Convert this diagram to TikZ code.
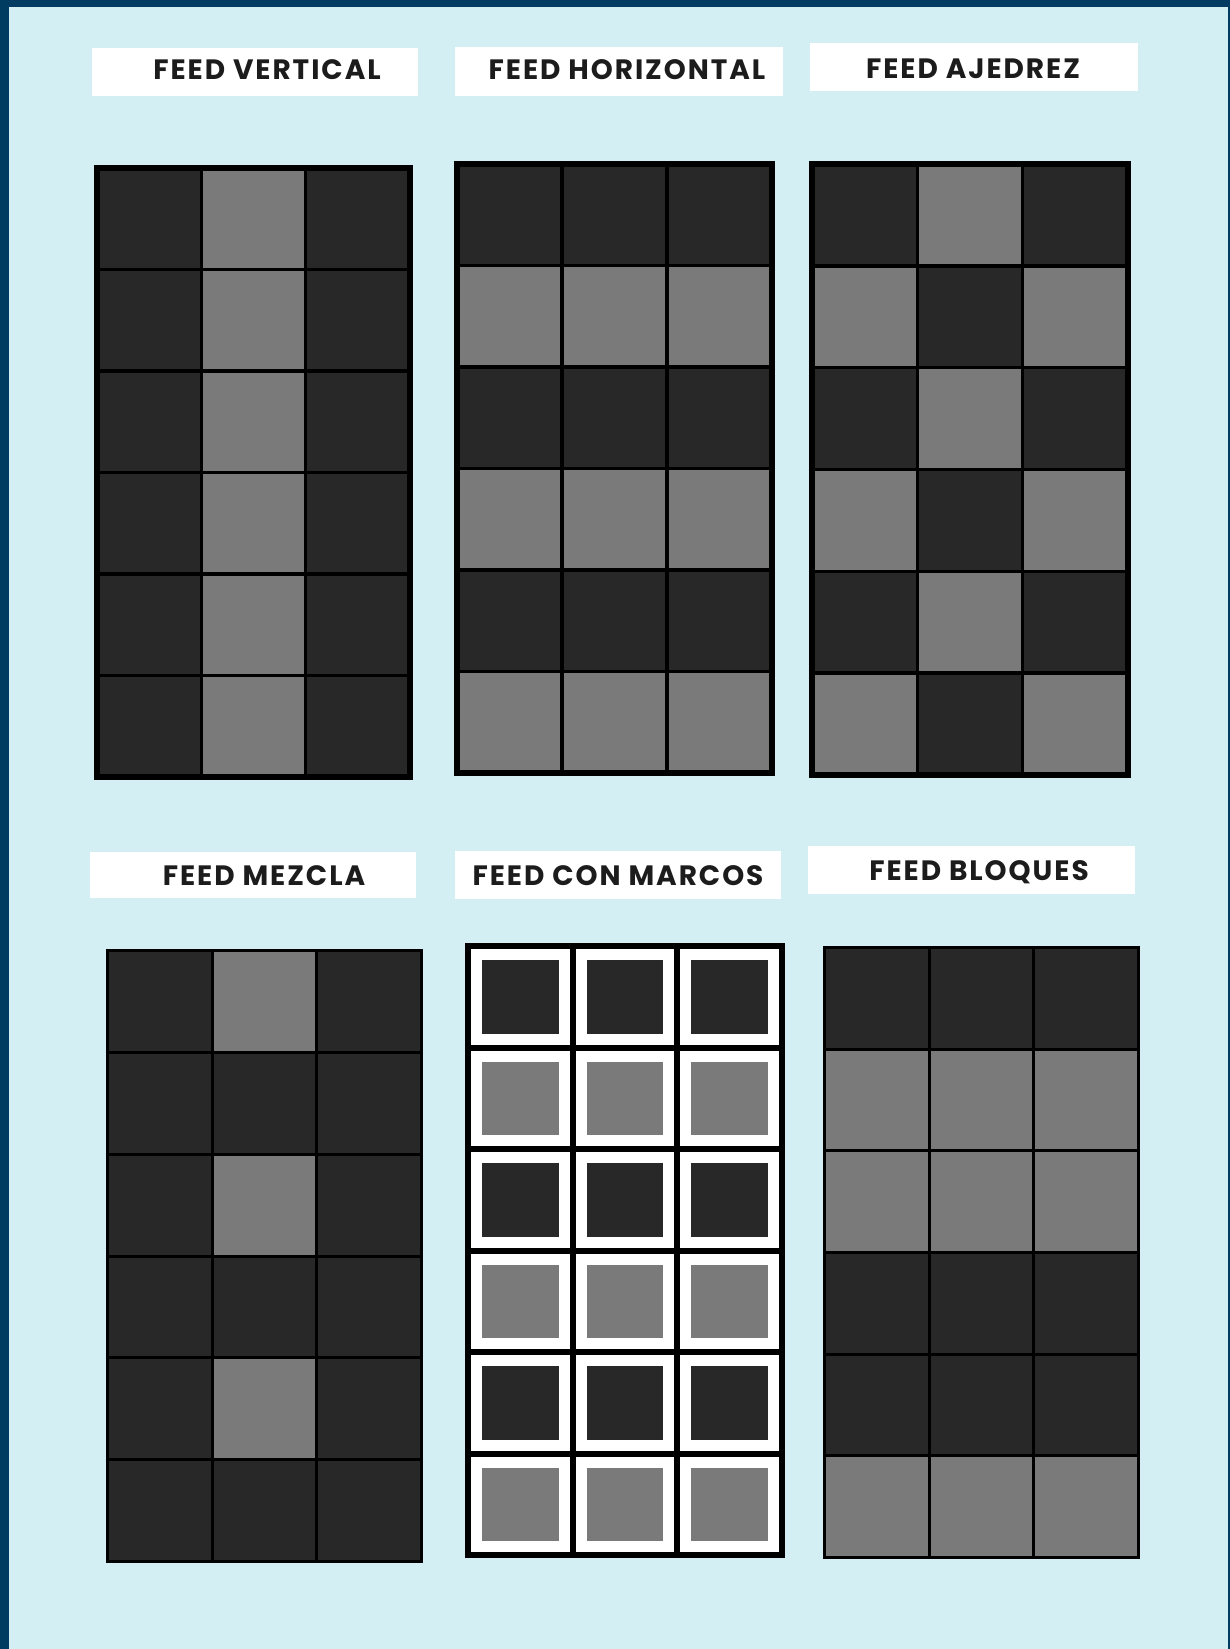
\documentclass[tikz,border=0pt]{standalone}
\usepackage{fontspec}
\setmainfont{Poppins}
\newfontfamily\rotfont[LetterSpace=7]{Poppins}
\usepackage{xcolor}
\usetikzlibrary{positioning}

\definecolor{borde}{HTML}{003B62}
\definecolor{fondo}{HTML}{D3EFF3}
\definecolor{oscuro}{HTML}{282828}
\definecolor{gris}{HTML}{7A7A7A}
\definecolor{tinta}{HTML}{1C1C1C}

\begin{document}
\begin{tikzpicture}[x=1pt, y=-1pt,
    rotulo/.style={font=\rotfont\bfseries\fontsize{28}{28}\selectfont, text=tinta, inner sep=0pt},
    linea/.style={line width=3.5pt, black},
    lineafina/.style={line width=3pt, black},
    marco/.style={line width=6pt, black}]
    \useasboundingbox (0,0) rectangle (1230,1649);

    % 1. Fondo y borde
    \fill[borde] (0,0) rectangle (1230,1649);
    \fill[fondo] (9,7) rectangle (1228,1649);

    % 2. Recuadros blancos de los rotulos
    \fill[white] (92,48) rectangle (418,96);
    \fill[white] (455,47) rectangle (783,96);
    \fill[white] (810,43) rectangle (1138,91);
    \fill[white] (90,852) rectangle (416,898);
    \fill[white] (455,851) rectangle (781,899);
    \fill[white] (808,846) rectangle (1135,894);

    % 3. Rotulos
    \node[rotulo] (rotVertical) at (267,70) {FEED VERTICAL};
    \node[rotulo] (rotHorizontal) at (627,70) {FEED HORIZONTAL};
    \node[rotulo] (rotAjedrez) at (973,69) {FEED AJEDREZ};
    \node[rotulo] (rotMezcla) at (264,876) {FEED MEZCLA};
    \node[rotulo] (rotMarcos) at (618,876) {FEED CON MARCOS};
    \node[rotulo] (rotBloques) at (979,872) {FEED BLOQUES};

    % 4. Feed vertical
    \begin{scope}[shift={(97,168)}, x=104.33pt, y=-101.5pt]
        \foreach \a/\b/\c [count=\f from 0] in {oscuro/gris/oscuro, oscuro/gris/oscuro,
            oscuro/gris/oscuro, oscuro/gris/oscuro, oscuro/gris/oscuro, oscuro/gris/oscuro}
            \foreach \col [count=\k from 0] in {\a,\b,\c}
                \fill[fill=\col] (\k,\f) rectangle (\k+1,\f+1);
        \foreach \k in {1,2} \draw[linea] (\k,0) -- (\k,6);
        \foreach \f in {1,...,5} \draw[linea] (0,\f) -- (3,\f);
        \draw[marco] (0,0) rectangle (3,6);
    \end{scope}

    % 5. Feed horizontal
    \begin{scope}[shift={(457,164)}, x=105pt, y=-101.5pt]
        \foreach \a/\b/\c [count=\f from 0] in {oscuro/oscuro/oscuro, gris/gris/gris,
            oscuro/oscuro/oscuro, gris/gris/gris, oscuro/oscuro/oscuro, gris/gris/gris}
            \foreach \col [count=\k from 0] in {\a,\b,\c}
                \fill[fill=\col] (\k,\f) rectangle (\k+1,\f+1);
        \foreach \k in {1,2} \draw[linea] (\k,0) -- (\k,6);
        \foreach \f in {1,...,5} \draw[linea] (0,\f) -- (3,\f);
        \draw[marco] (0,0) rectangle (3,6);
    \end{scope}

    % 6. Feed ajedrez
    \begin{scope}[shift={(812,164)}, x=105.33pt, y=-101.83pt]
        \foreach \a/\b/\c [count=\f from 0] in {oscuro/gris/oscuro, gris/oscuro/gris,
            oscuro/gris/oscuro, gris/oscuro/gris, oscuro/gris/oscuro, gris/oscuro/gris}
            \foreach \col [count=\k from 0] in {\a,\b,\c}
                \fill[fill=\col] (\k,\f) rectangle (\k+1,\f+1);
        \foreach \k in {1,2} \draw[linea] (\k,0) -- (\k,6);
        \foreach \f in {1,...,5} \draw[linea] (0,\f) -- (3,\f);
        \draw[marco] (0,0) rectangle (3,6);
    \end{scope}

    % 7. Feed mezcla
    \begin{scope}[shift={(107.5,950.5)}, x=104.67pt, y=-101.83pt]
        \foreach \a/\b/\c [count=\f from 0] in {oscuro/gris/oscuro, oscuro/oscuro/oscuro,
            oscuro/gris/oscuro, oscuro/oscuro/oscuro, oscuro/gris/oscuro, oscuro/oscuro/oscuro}
            \foreach \col [count=\k from 0] in {\a,\b,\c}
                \fill[fill=\col] (\k,\f) rectangle (\k+1,\f+1);
        \foreach \k in {1,2} \draw[lineafina] (\k,0) -- (\k,6);
        \foreach \f in {1,...,5} \draw[lineafina] (0,\f) -- (3,\f);
        \draw[lineafina] (0,0) rectangle (3,6);
    \end{scope}

    % 8. Feed con marcos
    \begin{scope}[shift={(468,946)}, x=104.67pt, y=-101.5pt]
        \fill[black] (0,0) rectangle (3,6);
        \foreach \a/\b/\c [count=\f from 0] in {oscuro/oscuro/oscuro, gris/gris/gris,
            oscuro/oscuro/oscuro, gris/gris/gris, oscuro/oscuro/oscuro, gris/gris/gris}
            \foreach \col [count=\k from 0] in {\a,\b,\c} {
                \fill[white] ([shift={(3pt,-3pt)}]\k,\f) rectangle ([shift={(-3pt,3pt)}]\k+1,\f+1);
                \fill[fill=\col] ([shift={(14pt,-14pt)}]\k,\f) rectangle ([shift={(-14pt,14pt)}]\k+1,\f+1);
            }
        \draw[marco] (0,0) rectangle (3,6);
    \end{scope}

    % 9. Feed bloques
    \begin{scope}[shift={(824.5,947.5)}, x=104.67pt, y=-101.67pt]
        \foreach \a/\b/\c [count=\f from 0] in {oscuro/oscuro/oscuro, gris/gris/gris,
            gris/gris/gris, oscuro/oscuro/oscuro, oscuro/oscuro/oscuro, gris/gris/gris}
            \foreach \col [count=\k from 0] in {\a,\b,\c}
                \fill[fill=\col] (\k,\f) rectangle (\k+1,\f+1);
        \foreach \k in {1,2} \draw[lineafina] (\k,0) -- (\k,6);
        \foreach \f in {1,...,5} \draw[lineafina] (0,\f) -- (3,\f);
        \draw[lineafina] (0,0) rectangle (3,6);
    \end{scope}
\end{tikzpicture}
\end{document}
